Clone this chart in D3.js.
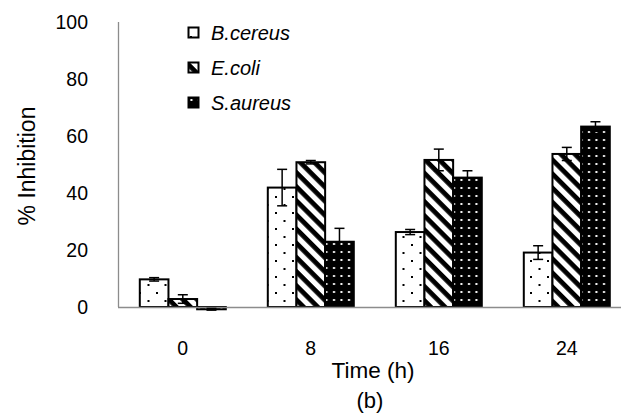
<!DOCTYPE html>
<html><head><meta charset="utf-8">
<script src="https://cdn.jsdelivr.net/npm/d3@7"></script>
<style>body{margin:0;background:#fff}svg{display:block}text{font-family:"Liberation Sans",Arial,sans-serif;fill:#000}</style>
</head><body><svg id="c" width="621" height="414"></svg>
<script>
const categories = ["0","8","16","24"];
const seriesNames = ["B.cereus","E.coli","S.aureus"];
const bcereus = [9.7, 41.9, 26.3, 19.1];
const bcereusErr = [0.6, 6.4, 0.9, 2.4];
const ecoli = [2.8, 50.8, 51.6, 53.7];
const ecoliErr = [1.5, 0.6, 3.8, 2.3];
const saureus = [-0.8, 22.9, 45.4, 63.3];
const saureusErr = [0.3, 4.7, 2.4, 1.7];
const yTicks = [0,20,40,60,80,100];

const values = [bcereus, ecoli, saureus];
const errs = [bcereusErr, ecoliErr, saureusErr];
const patIds = ["pDots","pStripes","pBlack"];

const svg = d3.select("#c");
const defs = svg.append("defs");
// dotted white
let p = defs.append("pattern").attr("id","pDots").attr("patternUnits","userSpaceOnUse").attr("width",17).attr("height",16);
p.append("rect").attr("width",17).attr("height",16).attr("fill","#fff");
p.append("rect").attr("x",3).attr("y",4).attr("width",2).attr("height",2).attr("fill","#000");
p.append("rect").attr("x",11.5).attr("y",12).attr("width",2).attr("height",2).attr("fill","#000");
// diagonal stripes "\"
p = defs.append("pattern").attr("id","pStripes").attr("patternUnits","userSpaceOnUse").attr("width",10).attr("height",10).attr("patternTransform","rotate(45)");
p.append("rect").attr("width",10).attr("height",10).attr("fill","#fff");
p.append("rect").attr("x",0).attr("y",0).attr("width",10).attr("height",4.8).attr("fill","#000");
// black with white dots
p = defs.append("pattern").attr("id","pBlack").attr("patternUnits","userSpaceOnUse").attr("width",7.5).attr("height",8);
p.append("rect").attr("width",7.5).attr("height",8).attr("fill","#000");
p.append("rect").attr("x",3).attr("y",3).attr("width",2).attr("height",2).attr("fill","#fff");

const y = d3.scaleLinear().domain([0,100]).range([307,22]);
const x0 = d3.scaleBand().domain(categories).range([118.8,630.8]);
const x1 = d3.scaleBand().domain(seriesNames).range([21,107]);

// y axis line
svg.append("line").attr("x1",118.5).attr("x2",118.5).attr("y1",y(100)).attr("y2",y(0)).attr("stroke","#8c8c8c").attr("stroke-width",1.3);
// y tick labels
svg.selectAll(".yt").data(yTicks).enter().append("text")
  .attr("x",88).attr("y",d=>y(d)).attr("dy","0.36em").attr("text-anchor","end")
  .attr("font-size",19.5).text(d=>d);

// bars
seriesNames.forEach((s,si)=>{
  const g = svg.append("g");
  categories.forEach((c,ci)=>{
    const v = values[si][ci];
    const xx = x0(c)+x1(s);
    g.append("rect").attr("x",xx).attr("y",y(Math.max(v,0))).attr("width",x1.bandwidth())
      .attr("height",Math.abs(y(v)-y(0))).attr("fill",`url(#${patIds[si]})`)
      .attr("stroke","#000").attr("stroke-width",2);
  });
});
// x axis line
svg.append("line").attr("x1",118).attr("x2",621).attr("y1",y(0)+0.5).attr("y2",y(0)+0.5).attr("stroke","#8c8c8c").attr("stroke-width",1.3);
// error bars
seriesNames.forEach((s,si)=>{
  categories.forEach((c,ci)=>{
    const v = values[si][ci], e = errs[si][ci];
    const cx = x0(c)+x1(s)+x1.bandwidth()/2;
    const g = svg.append("g").attr("stroke","#000").attr("stroke-width",1.5);
    g.append("line").attr("x1",cx).attr("x2",cx).attr("y1",y(v+e)).attr("y2",y(v-e));
    g.append("line").attr("x1",cx-5).attr("x2",cx+5).attr("y1",y(v+e)).attr("y2",y(v+e));
    g.append("line").attr("x1",cx-5).attr("x2",cx+5).attr("y1",y(v-e)).attr("y2",y(v-e));
  });
});
// x tick labels
svg.selectAll(".xt").data(categories).enter().append("text")
  .attr("x",d=>x0(d)+x0.bandwidth()/2).attr("y",348).attr("dy","0.36em").attr("text-anchor","middle")
  .attr("font-size",19.5).text(d=>d);
// axis titles
svg.append("text").attr("x",373).attr("y",370).attr("dy","0.36em").attr("text-anchor","middle").attr("font-size",22.5).text("Time (h)");
svg.append("text").attr("x",370).attr("y",400).attr("dy","0.36em").attr("text-anchor","middle").attr("font-size",22).text("(b)");
svg.append("text").attr("transform","translate(27,166) rotate(-90)").attr("dy","0.36em").attr("text-anchor","middle").attr("font-size",23).text("% Inhibition");

// legend
const legY = [33,68,103];
seriesNames.forEach((s,si)=>{
  svg.append("rect").attr("x",188.5).attr("y",legY[si]-5.5).attr("width",10).attr("height",10)
    .attr("fill",`url(#${patIds[si]})`).attr("stroke","#000").attr("stroke-width",2);
  svg.append("text").attr("x",211).attr("y",legY[si]).attr("dy","0.36em").attr("font-size",20)
    .attr("font-style","italic").text(s);
});
</script></body></html>
